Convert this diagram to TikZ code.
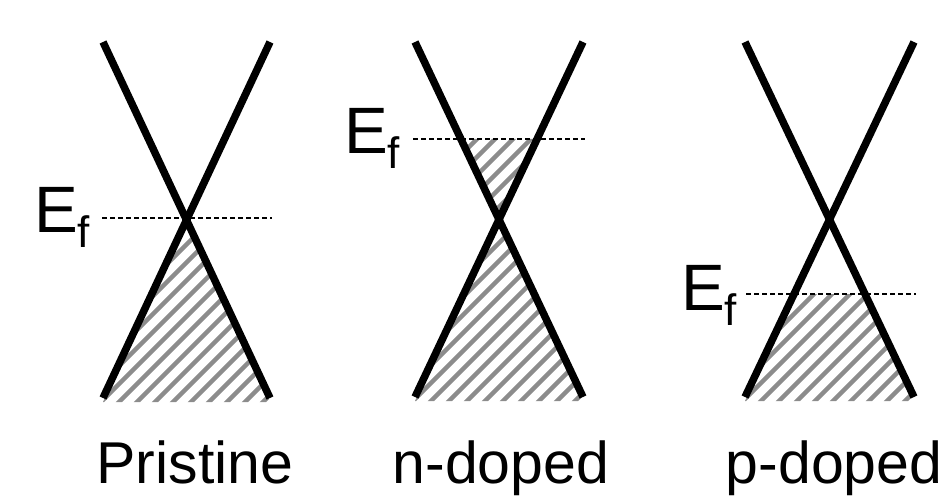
\documentclass[tikz,border=0pt]{standalone}
\usepackage{fontspec}
\setmainfont{Liberation Sans}
\usetikzlibrary{calc}
\tikzset{
  bandline/.style={line width=7.5pt,black},
  fermiline/.style={line width=1.5pt,black,dash pattern=on 5pt off 3pt},
  hatchline/.style={line width=4.5pt,black!45},
  eflabel/.style={anchor=base west,inner sep=0pt,font=\fontsize{65.6}{66}\selectfont},
  caplabel/.style={anchor=base,inner sep=0pt,font=\fontsize{59}{60}\selectfont}
}
\newcommand{\Ef}{E\raisebox{-15pt}{\fontsize{44}{44}\selectfont f}}
\newcommand{\hatchfrom}[1]{%
  \foreach \o in {-300,-282,...,200}
    \draw[hatchline] ($(#1)+(\o,14)$) -- ++(320,-320);}

\begin{document}
\begin{tikzpicture}[x=1pt,y=-1pt]
  \useasboundingbox (0,0) rectangle (950,498);

  % pristine cone
  \coordinate (p-tl) at (103,42);  \coordinate (p-tr) at (270,42);
  \coordinate (p-bl) at (103,398); \coordinate (p-br) at (270,398);
  \coordinate (p-c) at ($(p-tl)!0.5!(p-br)$);
  \coordinate (p-fl) at (102,218); \coordinate (p-fr) at (272,218);
  % n-doped cone
  \coordinate (n-tl) at (415,42);  \coordinate (n-tr) at (583,42);
  \coordinate (n-bl) at (415,397); \coordinate (n-br) at (583,397);
  \coordinate (n-c) at ($(n-tl)!0.5!(n-br)$);
  \coordinate (n-fl) at (413,139); \coordinate (n-fr) at (585,139);
  % p-doped cone
  \coordinate (d-tl) at (745,42);  \coordinate (d-tr) at (914,42);
  \coordinate (d-bl) at (745,397); \coordinate (d-br) at (914,397);
  \coordinate (d-c) at ($(d-tl)!0.5!(d-br)$);
  \coordinate (d-fl) at (746,294); \coordinate (d-fr) at (916,294);

  % filled states
  \begin{scope}
    \clip ($(p-c)+(0,-2)$) -- ($(p-br)+(0,4)$) -- ($(p-bl)+(0,4)$) -- cycle;
    \hatchfrom{p-bl}
  \end{scope}
  \begin{scope}
    \clip ($(n-tl)!0.273!(n-br)$) -- ($(n-tr)!0.273!(n-bl)$) -- (n-c)
      -- ($(n-br)+(0,4)$) -- ($(n-bl)+(0,4)$) -- (n-c) -- cycle;
    \hatchfrom{n-bl}
  \end{scope}
  \begin{scope}
    \clip ($(d-tr)!0.71!(d-bl)$) -- ($(d-tl)!0.71!(d-br)$)
      -- ($(d-br)+(0,4)$) -- ($(d-bl)+(0,4)$) -- cycle;
    \hatchfrom{d-bl}
  \end{scope}

  % Fermi levels
  \draw[fermiline] (p-fl) -- (p-fr);
  \draw[fermiline] (n-fl) -- (n-fr);
  \draw[fermiline] (d-fl) -- (d-fr);

  % bands
  \draw[bandline] (p-tl) -- (p-br); \draw[bandline] (p-tr) -- (p-bl);
  \draw[bandline] (n-tl) -- (n-br); \draw[bandline] (n-tr) -- (n-bl);
  \draw[bandline] (d-tl) -- (d-br); \draw[bandline] (d-tr) -- (d-bl);

  \node[eflabel] (p-ef) at (34,232) {\Ef};
  \node[eflabel] (n-ef) at (344,153) {\Ef};
  \node[eflabel] (d-ef) at (681,310) {\Ef};

  \node[caplabel] (p-name) at (195,483) {Pristine};
  \node[caplabel] (n-name) at (501,483) {n-doped};
  \node[caplabel] (d-name) at (834,483) {p-doped};
\end{tikzpicture}
\end{document}
